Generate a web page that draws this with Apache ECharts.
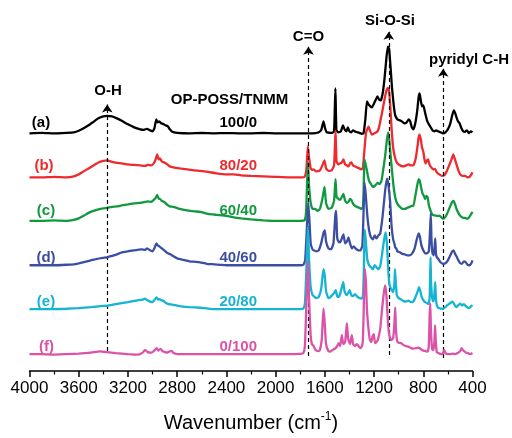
<!DOCTYPE html>
<html><head><meta charset="utf-8">
<script src="https://cdn.jsdelivr.net/npm/echarts@6/dist/echarts.min.js"></script>
<style>html,body{margin:0;padding:0;background:#fff}#c{width:512px;height:438px}</style>
</head><body><div id="c"></div>
<script>
// ---- data: [wavenumber (cm-1), relative absorbance above own baseline] ----
const seriesNames = ['(a)','(b)','(c)','(d)','(e)','(f)'];
const ratioLabels = ['100/0','80/20','60/40','40/60','20/80','0/100'];
const offsets = [239, 194.7, 151, 106.3, 62.3, 17];
const xTicks = [4000,3600,3200,2800,2400,2000,1600,1200,800,400];
const bandNames = ['O-H','C=O','Si-O-Si','pyridyl C-H'];
const bandPositions = [3368,1733,1080,638];
const bandTops = [268,326,341,304];
const bandBottoms = [20,15,16,13];

const traceA = [[4000,0],[3900,0.5],[3800,0],[3700,0.5],[3640,1],[3600,2.5],[3560,5],[3520,8],[3480,11.5],[3440,15],[3400,17],[3370,17.5],[3330,17],[3290,15],[3250,12.5],[3200,9],[3150,6],[3100,4],[3070,3.5],[3045,4.5],[3020,3],[3000,2],[2985,5],[2970,14],[2960,11],[2945,12],[2930,10],[2915,9.5],[2895,8],[2875,7],[2860,4],[2840,1.5],[2800,0.5],[2700,0],[2600,0.3],[2500,0],[2400,0.2],[2300,0],[2200,0],[2100,0.3],[2000,0],[1900,0],[1800,0],[1700,0],[1660,0.5],[1630,3],[1611,12],[1600,6],[1585,1],[1540,0.5],[1525,2],[1514,45],[1506,3],[1490,1],[1470,2],[1452,8],[1440,4],[1425,2],[1413,6],[1400,2],[1385,1],[1370,3],[1350,1.5],[1320,0.5],[1300,-0.5],[1285,0],[1270,15],[1258,32],[1245,29],[1230,27],[1218,26],[1200,30],[1185,34],[1173,37],[1160,34],[1145,33],[1130,40],[1115,55],[1100,75],[1088,87],[1078,85],[1065,65],[1055,47],[1040,28],[1028,18],[1010,14],[990,13],[974,12],[955,10],[935,11],[918,14],[906,12],[893,6],[880,4],[865,10],[850,22],[838,36],[830,40],[820,33],[810,27],[800,28],[791,24],[780,18],[770,13],[755,9],[744,7],[725,3],[710,2],[695,3],[680,2],[660,1],[640,0],[620,1],[600,4],[580,10],[565,18],[552,23],[540,20],[530,16],[518,12],[505,10],[490,5],[475,2],[460,1.5],[445,3],[430,0],[415,2],[400,1]];

const traceB = [[4000,0],[3900,0],[3800,0.5],[3700,0],[3640,1],[3600,3],[3560,6],[3520,9],[3480,12],[3440,15],[3400,16.5],[3370,17],[3330,15.5],[3290,14.5],[3250,14],[3200,13],[3150,12.5],[3100,12],[3060,11.5],[3040,12.5],[3010,12],[2990,14],[2975,18],[2962,23],[2950,18],[2940,19],[2925,16],[2905,15],[2880,13],[2860,11],[2830,10],[2780,9],[2720,8],[2660,7],[2613,6.5],[2550,5.5],[2480,4],[2400,3],[2340,3],[2280,2],[2200,1.5],[2100,1],[2000,0.5],[1900,0],[1800,0],[1765,0.5],[1750,8],[1738,31],[1728,20],[1715,9],[1700,7.5],[1693,8],[1670,6],[1640,7],[1620,12],[1603,17],[1590,9],[1571,6.5],[1545,7],[1525,12],[1513,47],[1505,16],[1490,13],[1476,14],[1462,15],[1449,18],[1435,13],[1420,12],[1408,11],[1395,14],[1385,15],[1370,12],[1355,11],[1340,10],[1320,9],[1299,8],[1290,10],[1280,25],[1265,45],[1245,51],[1230,46],[1218,43],[1200,44],[1185,45],[1173,46],[1160,50],[1140,62],[1120,75],[1100,87],[1088,90],[1080,88],[1070,75],[1058,50],[1045,30],[1030,20],[1015,15],[1000,13],[980,11.5],[960,11],[940,12],[920,13],[900,12],[880,12],[860,20],[845,33],[838,40],[830,43],[820,38],[810,30],[800,26],[790,18],[780,14],[770,17],[760,18],[750,13],[735,10],[720,8],[705,8.5],[690,5],[670,3],[650,1.5],[630,2],[610,6],[590,12],[570,18],[556,23],[545,19],[530,13],[515,7],[500,3],[480,1.5],[460,1.5],[440,0],[420,1],[400,5]];

const traceC = [[4000,0],[3900,0],[3800,0.5],[3700,0],[3640,1],[3600,2.5],[3560,5],[3520,8],[3480,10],[3440,11.5],[3400,12.5],[3370,13],[3330,14],[3290,14.5],[3250,15.5],[3200,16.5],[3150,17.5],[3100,18],[3060,19],[3040,19.5],[3010,19],[2990,21],[2975,23],[2962,26],[2950,22],[2940,22],[2925,20],[2905,19],[2880,16],[2860,14.5],[2830,14],[2780,12],[2720,10.5],[2660,9.5],[2613,9],[2550,7],[2480,6],[2400,5],[2340,3.5],[2280,2.5],[2200,1.5],[2100,0.5],[2000,0],[1900,0],[1800,0],[1765,0.5],[1752,10],[1738,59],[1728,35],[1715,18],[1700,12],[1680,12],[1660,10],[1640,12],[1620,22],[1603,34],[1590,18],[1571,12],[1545,13],[1525,20],[1513,42],[1505,24],[1490,22],[1476,21],[1462,24],[1449,27],[1435,20],[1420,18],[1408,19],[1395,22],[1385,21],[1370,17],[1355,15],[1340,14],[1320,13],[1299,12],[1290,14],[1285,30],[1278,62],[1265,55],[1250,45],[1240,40],[1225,37],[1210,34],[1195,35],[1180,37],[1170,38],[1155,37],[1140,40],[1125,52],[1110,65],[1095,82],[1085,89],[1075,80],[1063,62],[1050,45],[1040,33],[1025,22],[1010,17],[990,14],[970,12],[950,12],[930,13],[910,14],[895,15],[880,15],[865,25],[850,35],[838,42],[828,40],[815,32],[805,27],[795,25],[785,22],[775,25],[765,24],[755,16],[740,10],[725,6],[710,5.5],[690,5],[665,5],[640,2],[620,4],[600,9],[580,15],[565,19],[553,20],[540,16],[530,12],[515,8],[500,5],[490,4],[475,3],[460,3],[445,2],[430,3],[415,6],[400,9]];

const traceD = [[4000,0],[3900,0],[3800,0],[3700,0.5],[3640,1],[3600,2],[3550,3.5],[3500,5],[3450,6.5],[3400,7.5],[3370,8],[3330,9.5],[3290,11],[3250,13],[3200,14],[3158,15],[3120,15.5],[3090,16],[3060,15.5],[3045,17],[3020,15],[3000,14],[2985,17],[2968,22],[2958,20],[2945,19],[2930,17.5],[2915,16],[2895,14],[2875,12],[2855,11],[2830,9],[2800,7],[2750,5.5],[2700,4],[2650,3.5],[2613,3],[2560,1.5],[2500,1],[2450,0.5],[2400,0],[2300,0],[2200,0],[2100,0],[2000,0],[1900,0],[1800,0],[1775,0.5],[1760,5],[1745,40],[1735,63],[1725,45],[1715,22],[1700,16],[1690,15],[1670,14],[1650,15],[1630,22],[1610,33],[1600,35],[1590,24],[1571,17],[1550,16],[1530,22],[1515,50],[1508,55],[1500,28],[1490,24],[1476,23],[1462,27],[1449,31],[1435,22],[1420,24],[1408,28],[1395,22],[1380,17],[1365,19],[1350,17],[1330,15],[1310,15],[1295,20],[1285,55],[1278,83],[1268,72],[1255,50],[1240,35],[1225,28],[1210,26],[1195,30],[1180,27],[1165,30],[1150,32],[1130,50],[1110,75],[1095,87],[1085,82],[1070,65],[1058,40],[1045,26],[1035,22],[1028,18],[1020,17],[1010,14],[990,13],[970,11.5],[950,11],[930,10],[910,10],[890,12],[870,17],[855,25],[838,32],[828,29],[815,20],[800,15],[785,12],[770,12],[755,14],[745,35],[739,52],[733,25],[725,12],[715,10],[708,18],[703,27],[697,12],[690,8],[676,6],[660,3],[640,1.5],[620,2],[600,5],[580,10],[565,14],[553,15],[540,11],[530,9],[515,5],[500,2],[485,1.5],[470,4],[455,3],[440,0.5],[425,0],[410,2],[400,5]];

const traceE = [[4000,0],[3900,0],[3800,0],[3700,0.3],[3600,1],[3500,2],[3420,3],[3370,3.3],[3300,5],[3250,6],[3200,7],[3158,8],[3110,9],[3080,9.5],[3061,10.5],[3045,9],[3020,7.5],[3000,7],[2985,9],[2966,11.7],[2955,9.5],[2945,10],[2930,9],[2910,8],[2890,6],[2870,5],[2840,4.5],[2800,3.5],[2750,2.5],[2700,2],[2613,1.3],[2550,0.5],[2500,0],[2400,0],[2300,0],[2200,0],[2100,0],[2000,0],[1900,0],[1800,0],[1775,0.5],[1762,5],[1750,40],[1738,83],[1728,50],[1715,22],[1700,14],[1690,13],[1670,11],[1650,12],[1630,20],[1611,40],[1600,33],[1590,18],[1571,11],[1555,12],[1540,14],[1525,16],[1511,19],[1500,13],[1490,12],[1476,15],[1462,22],[1450,27],[1440,18],[1425,14],[1410,16],[1398,19],[1385,14],[1370,13],[1355,15],[1340,13],[1320,11],[1300,10.5],[1290,13],[1283,40],[1276,80],[1268,70],[1255,50],[1240,44],[1225,42],[1210,40],[1195,44],[1180,42],[1165,40],[1150,43],[1135,55],[1118,70],[1106,77],[1095,65],[1085,40],[1075,24],[1060,20],[1045,17],[1035,25],[1030,40],[1024,28],[1015,14],[1000,11],[980,9.5],[960,8],[940,7.5],[920,8.5],[900,7],[880,7.5],[860,13],[845,18],[835,22],[826,19],[815,13],[800,9],[785,7],[770,6],[758,5],[748,12],[741,52],[736,25],[725,8],[715,8],[708,18],[703,27],[697,10],[688,3],[676,1],[660,0.5],[640,0],[620,2],[600,4.5],[580,6],[565,7.5],[553,6],[540,3],[530,2],[515,4],[500,5.5],[485,3.5],[470,5],[455,3],[440,1.5],[425,1],[410,3],[400,4]];

const traceF = [[4000,0],[3900,0],[3800,-0.5],[3700,0],[3600,0.5],[3500,1.5],[3427,2.7],[3370,2],[3300,1],[3200,0],[3120,-0.5],[3080,1.5],[3061,4.3],[3040,2],[3010,1.5],[2990,3],[2966,6],[2955,3.5],[2945,4.5],[2935,5.3],[2920,3],[2900,2],[2880,1.5],[2865,2.5],[2844,3.3],[2830,1],[2800,0],[2700,0],[2600,0],[2500,0],[2400,0],[2300,0],[2200,0],[2100,0],[2000,0],[1900,0],[1800,0.3],[1775,1],[1762,8],[1750,50],[1738,94],[1728,55],[1715,18],[1705,10],[1693,8.5],[1675,4],[1655,3],[1640,4],[1625,15],[1611,46],[1603,35],[1590,10],[1571,3],[1555,2.5],[1540,4],[1525,5],[1512,6],[1500,8],[1489,11],[1475,8],[1462,19],[1450,10],[1435,12],[1421,31],[1410,15],[1395,10],[1381,19],[1370,10],[1355,8],[1340,10],[1320,7],[1305,6],[1292,12],[1285,40],[1275,86],[1265,70],[1258,45],[1248,29],[1235,15],[1222,12],[1212,18],[1202,20],[1192,11],[1182,12],[1170,14],[1160,19],[1150,25],[1135,45],[1120,62],[1110,69],[1100,60],[1090,38],[1080,22],[1070,16],[1060,14],[1045,16],[1035,30],[1028,47],[1022,25],[1012,13],[1000,11.5],[980,11],[960,9],[940,8],[920,7.5],[900,6],[880,5.5],[860,6],[838,6.5],[820,5],[800,3.5],[780,3],[765,2.5],[755,8],[748,40],[743,51],[738,25],[728,5],[718,4],[710,12],[704,29],[698,12],[690,2],[676,1],[660,0],[645,0],[630,4],[620,1],[600,0],[580,0],[560,0.5],[540,0],[520,1],[500,3],[488,6],[478,4],[468,3],[455,1.5],[440,1],[420,0],[400,1]];

const traces = [traceA, traceB, traceC, traceD, traceE, traceF];
const colors = ['#000000','#ee2a2e','#11993f','#3b4ea3','#14b4d2','#db52a8'];

// ---- chart ----
const chart = echarts.init(document.getElementById('c'), null, {renderer:'canvas'});
const FONT = '"Liberation Sans", Arial, sans-serif';

const series = traces.map((tr, i) => ({
  name: seriesNames[i],
  type: 'line',
  data: tr.map(p => [p[0], p[1] + offsets[i]]),
  showSymbol: false,
  smooth: 0.15,
  lineStyle: {color: colors[i], width: 2.3},
  z: 2 + i,
  animation: false
}));

series.push({
  type: 'line', data: [], silent: true, z: 20,
  markLine: {
    silent: true, animation: false,
    symbol: ['none','arrow'], symbolSize: 8,
    label: {show: false},
    lineStyle: {color: '#000', type: [4,3], width: 1.2},
    data: bandPositions.map((w, i) => [{coord: [w, bandBottoms[i]]}, {coord: [w, bandTops[i]]}])
  }
});

const graphics = [];
const bandLabelPos = [[108,91],[308.5,37],[390,21],[469,60]];
bandNames.forEach((t, i) => graphics.push({type:'text', style:{text:t, x:bandLabelPos[i][0], y:bandLabelPos[i][1], align:'center', verticalAlign:'middle', font:'bold 15px '+FONT, fill:'#000'}}));
graphics.push({type:'text', style:{text:'OP-POSS/TNMM', x:229.5, y:100, align:'center', verticalAlign:'middle', font:'bold 15px '+FONT, fill:'#000'}});
const labelYs = [123,166,211,258,302,347];
const nameXs = [41,44,46,46,46,46.5];
seriesNames.forEach((t, i) => {
  graphics.push({type:'text', style:{text:t, x:nameXs[i], y:labelYs[i], align:'center', verticalAlign:'middle', font:'bold 15px '+FONT, fill:colors[i]}});
  graphics.push({type:'text', style:{text:ratioLabels[i], x:257, y:labelYs[i], align:'right', verticalAlign:'middle', font:'bold 15px '+FONT, fill:colors[i]}});
});

chart.setOption({
  animation: false,
  backgroundColor: '#fff',
  grid: {left: 29.5, right: 39.5, top: 0, bottom: 65, containLabel: false},
  xAxis: {
    type: 'value', inverse: true, min: 400, max: 4000, interval: 400,
    axisLine: {show: true, lineStyle: {color: '#000', width: 1.5}},
    axisTick: {show: true, inside: false, length: 6, lineStyle: {color:'#000', width: 1.5}},
    minorTick: {show: true, splitNumber: 2, length: 3.5, lineStyle: {color:'#000', width: 1.2}},
    splitLine: {show: false},
    axisLabel: {color: '#000', fontFamily: FONT, fontSize: 17, margin: 9,
      formatter: v => xTicks.indexOf(v) >= 0 ? String(v) : ''},
    name: '{a|Wavenumber (cm}{s|-1}{a|)}',
    nameLocation: 'middle', nameGap: 40,
    nameTextStyle: {rich: {
      a: {fontFamily: FONT, fontSize: 20, color: '#000', verticalAlign: 'bottom', lineHeight: 22},
      s: {fontFamily: FONT, fontSize: 12, color: '#000', verticalAlign: 'top', lineHeight: 22, padding: [0,0,10,0]}
    }}
  },
  yAxis: {type: 'value', min: 0, max: 373, show: false},
  series: series,
  graphic: graphics
});
</script></body></html>
